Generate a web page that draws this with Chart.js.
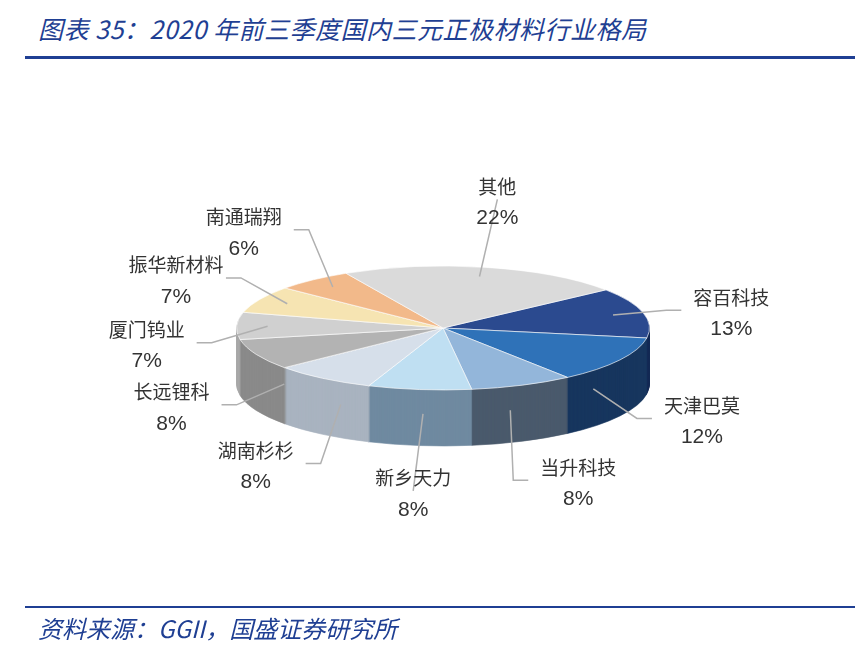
<!DOCTYPE html><html><head><meta charset="utf-8">
<script src="https://cdn.jsdelivr.net/npm/chart.js@4"></script>
<style>
body{margin:0;width:856px;height:661px;background:#fff;position:relative;overflow:hidden;font-family:"Noto Sans CJK SC",sans-serif}
#t{position:absolute;left:38px;top:10px;font-size:25px;color:#1f3f93;font-style:italic;letter-spacing:0.5px}
#l1{position:absolute;left:25px;top:56px;width:830px;height:3px;background:#1f3f93}
#l2{position:absolute;left:25px;top:606px;width:830px;height:2px;background:#1f3f93}
#s{position:absolute;left:38px;top:610px;font-size:24px;color:#1f3f93;font-style:italic}
canvas{position:absolute;left:0;top:0}
</style></head><body>
<div id="t">图表 35：2020 年前三季度国内三元正极材料行业格局</div><div id="l1"></div>
<canvas id="c" width="856" height="661"></canvas>
<div id="l2"></div><div id="s">资料来源：GGII，国盛证券研究所</div>
<script>
const categories=["容百科技","天津巴莫","当升科技","新乡天力","湖南杉杉","长远锂科","厦门钨业","振华新材料","南通瑞翔","其他"];
const values=[13,12,8,8,8,8,7,7,6,22];
const topColors=["#2b4a8f","#2f72b8","#93b6da","#bfdff2","#d6dfea","#b3b3b3","#d0d0d0","#f6e4b2","#f2b98a","#dadada"];
const sideColors=["#142a55","#17365e","#4a5a6c","#6f8aa0","#a9b3c0","#8a8a8a","#a8a8a8","#c9b98a","#c69670","#b0b0b0"];
const SQ=0.3, DEPTH=56, CX=443, CY=328;
const pie3d={id:'pie3d',
beforeDatasetsDraw(ch){const ctx=ch.ctx,m=ch.getDatasetMeta(0),a0=m.data[0];
 const cx=a0.x,cy=a0.y;ctx.save();
 const tr=(d)=>{ctx.setTransform(1,0,0,1,0,0);ctx.translate(CX,CY+d);ctx.scale(1,SQ);ctx.translate(-cx,-cy);};
 for(let d=DEPTH;d>0;d-=1){tr(d);m.data.forEach((arc,i)=>{const o=arc.options,b=o.backgroundColor,bc=o.borderColor;o.backgroundColor=sideColors[i];o.borderColor=sideColors[i];arc.draw(ctx);o.backgroundColor=b;o.borderColor=bc;});}
 tr(0);},
afterDatasetsDraw(ch){const ctx=ch.ctx;ctx.restore();
 const m=ch.getDatasetMeta(0);ctx.save();ctx.setTransform(1,0,0,1,0,0);
 m.data.forEach((arc,i)=>{const a=(arc.startAngle+arc.endAngle)/2,r=arc.outerRadius;
  const c=Math.cos(a),s=Math.sin(a);
  const ex=CX+r*0.85*c,ey=CY+r*SQ*0.85*s+(s>0?DEPTH*0.6:0);
  const lx=CX+(r+55)*c,ly=CY+(r*SQ+90)*s+(s>0?30:0);
  ctx.strokeStyle="#b0b0b0";ctx.lineWidth=1.5;ctx.beginPath();ctx.moveTo(ex,ey);
  const jx=lx-(c>0.3?30:c<-0.3?-30:0),jy=ly+(s<0?20:-18);
  ctx.lineTo(jx,jy);ctx.lineTo(lx-(c>0.3?15:c<-0.3?-15:0),jy);ctx.stroke();
  const tx=lx+(c>0.3?35:c<-0.3?-35:0);
  ctx.fillStyle="#333";ctx.textAlign="center";ctx.textBaseline="middle";
  ctx.font="19px 'Noto Sans CJK SC'";ctx.fillText(categories[i],tx,jy-13);
  ctx.font="21px 'Liberation Sans'";ctx.fillText(values[i]+"%",tx,jy+19);});
 ctx.restore();}};
new Chart(document.getElementById('c'),{type:'pie',
data:{labels:categories,datasets:[{data:values,backgroundColor:topColors,borderColor:"#ffffff",borderWidth:1}]},
options:{responsive:false,animation:false,rotation:52,clip:false,
layout:{padding:{left:236,right:206,top:120,bottom:127}},
plugins:{legend:{display:false},tooltip:{enabled:false}}},plugins:[pie3d]});
</script></body></html>
